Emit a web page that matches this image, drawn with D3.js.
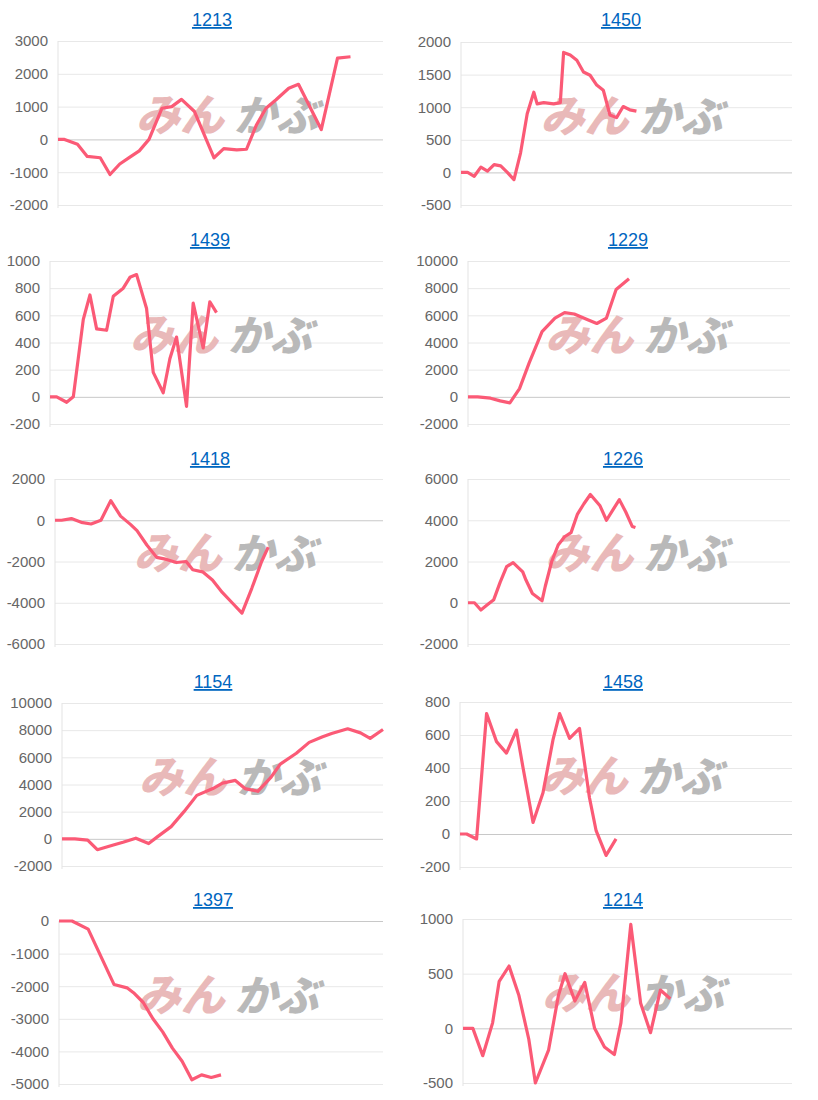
<!DOCTYPE html>
<html><head><meta charset="utf-8">
<script src="https://cdn.jsdelivr.net/npm/d3@7/dist/d3.min.js"></script>
<style>body{margin:0;background:#fff}svg{display:block}</style>
</head><body>
<svg id="c" width="818" height="1100"></svg>
<script>
const titles = ["1213","1450","1439","1229","1418","1226","1154","1458","1397","1214"];
const days1213 = [0,2,6,9,13,16,19,22,25,28,32,35,38,42,48,51,55,58,61,64,67,71,74,81,86,90];
const vals1213 = [0,0,-150,-520,-560,-1070,-750,-550,-350,0,950,1000,1220,850,-560,-280,-320,-300,430,950,1200,1560,1680,300,2480,2520];
const days1450 = [0,2,4,6,8,10,12,14,16,18,20,22,23,25,28,30,31,33,35,37,39,41,43,45,47,49,51,53];
const vals1450 = [0,0,-60,80,20,120,100,0,-110,300,900,1230,1050,1070,1050,1070,1840,1800,1720,1540,1490,1340,1260,880,840,1010,960,940];
const days1439 = [0,2,5,7,10,12,14,17,19,22,24,26,29,31,34,36,38,41,43,46,48,50];
const vals1439 = [0,0,-40,0,570,750,500,490,740,800,880,900,650,180,30,280,440,-70,690,360,700,620];
const days1229 = [0,3,7,10,13,16,19,23,27,30,33,37,40,43,46,50];
const vals1229 = [0,0,-100,-300,-450,600,2500,4800,5800,6200,6100,5700,5400,5800,7900,8700];
const days1418 = [0,2,5,8,11,14,17,20,23,25,28,31,34,37,40,42,45,48,51,54,57,60,63,65];
const vals1418 = [0,0,80,-100,-180,0,950,200,-200,-500,-1200,-1800,-1900,-2050,-2000,-2400,-2500,-2900,-3500,-4000,-4500,-3300,-2000,-1300];
const days1226 = [0,2,4,6,8,10,12,14,17,18,20,23,24,26,28,30,32,34,36,38,41,43,45,47,49,51,52];
const vals1226 = [0,0,-350,-100,150,1000,1750,1950,1500,1100,450,100,800,2000,2800,3200,3400,4300,4800,5250,4700,4000,4500,5000,4400,3700,3650];
const days1154 = [0,4,8,11,16,19,23,27,30,34,38,42,47,50,54,57,61,65,68,73,77,81,84,89,93,96,100];
const vals1154 = [0,0,-100,-800,-450,-250,50,-350,200,900,2000,3200,3700,4100,4300,3700,3500,4500,5500,6300,7100,7500,7750,8100,7800,7400,8050];
const days1458 = [0,2,5,8,11,14,17,19,22,25,28,30,33,36,39,41,44,47];
const vals1458 = [0,0,-30,730,560,490,630,400,70,250,570,730,580,640,220,20,-130,-30];
const days1397 = [0,4,9,13,17,21,23,26,29,32,35,38,41,44,47,50];
const vals1397 = [0,0,-250,-1100,-1950,-2050,-2200,-2500,-3000,-3400,-3900,-4300,-4870,-4720,-4800,-4720];
const days1214 = [0,3,6,9,11,14,17,20,22,26,29,31,34,37,40,43,46,48,51,54,57,60,63];
const vals1214 = [0,0,-250,50,430,570,300,-100,-500,-200,300,500,250,420,0,-170,-240,50,950,230,-40,350,270];
const ticks1213=[-2000,-1000,0,1000,2000,3000], ticks1450=[-500,0,500,1000,1500,2000],
      ticks1439=[-200,0,200,400,600,800,1000], ticks1229=[-2000,0,2000,4000,6000,8000,10000],
      ticks1418=[-6000,-4000,-2000,0,2000], ticks1226=[-2000,0,2000,4000,6000],
      ticks1154=[-2000,0,2000,4000,6000,8000,10000], ticks1458=[-200,0,200,400,600,800],
      ticks1397=[-5000,-4000,-3000,-2000,-1000,0], ticks1214=[-500,0,500,1000];
const series=[[days1213,vals1213,ticks1213],[days1450,vals1450,ticks1450],[days1439,vals1439,ticks1439],
 [days1229,vals1229,ticks1229],[days1418,vals1418,ticks1418],[days1226,vals1226,ticks1226],
 [days1154,vals1154,ticks1154],[days1458,vals1458,ticks1458],[days1397,vals1397,ticks1397],[days1214,vals1214,ticks1214]];
const boxes=[[58,383,41,205,212,26],[461,792,42,205,621,26],[50,383,261,424,210,246],[468,790,261,424,628,246],
 [55,383,479,644,210,465],[468,790,479,644,623,465],[62,383,703,866,213,688],[460,792,702,867,623,688],
 [59,383,921,1084,213,906],[463,792,919,1083,623,906]];
const svg=d3.select("#c");
series.forEach(([days,vals,ticks],i)=>{
  const [x0,x1,yt,yb,tx,ty]=boxes[i];
  const x=d3.scaleLinear().domain([0,100]).range([x0,x1]);
  const y=d3.scaleLinear().domain([ticks[0],ticks[ticks.length-1]]).range([yb,yt]);
  const g=svg.append("g");
  g.append("text").attr("x",tx).attr("y",ty).attr("text-anchor","middle").attr("font-family","Liberation Sans, Arial")
   .attr("font-size",18).attr("fill","#0066c0").attr("text-decoration","underline").text(titles[i]);
  const ax=g.append("g").attr("transform",`translate(${x0},0)`).call(d3.axisLeft(y).tickValues(ticks).tickSize(-(x1-x0)).tickPadding(10).tickFormat(d=>String(d)));
  ax.select(".domain").remove();
  ax.selectAll(".tick line").attr("stroke",d=>d===0?"#c8c8c8":"#e8e8e8");
  ax.selectAll(".tick text").attr("font-family","Liberation Sans, Arial").attr("font-size",15).attr("fill","#666");
  g.append("line").attr("x1",x0).attr("x2",x0).attr("y1",yt).attr("y2",yb+3).attr("stroke","#e3e3e3");
  const wx=x0+(x1-x0)*0.24, wy=yt+90;
  g.append("text").attr("x",wx).attr("y",wy).attr("font-family","Noto Sans CJK JP").attr("font-weight",900)
   .attr("font-size",44).attr("fill","#e9b9b9").attr("transform",`skewX(-14)`).attr("transform-origin",`${wx} ${wy}`).text("みん");
  g.append("text").attr("x",wx+98).attr("y",wy).attr("font-family","Noto Sans CJK JP").attr("font-weight",900)
   .attr("font-size",42).attr("fill","#b9b9b9").attr("transform",`skewX(-14)`).attr("transform-origin",`${wx+98} ${wy}`).text("かぶ");
  g.append("path").datum(days.map((d,j)=>[d,vals[j]])).attr("fill","none").attr("stroke","#fb5a76").attr("stroke-width",3.2)
   .attr("stroke-linejoin","round").attr("d",d3.line().x(d=>x(d[0])).y(d=>y(d[1])));
});
</script></body></html>
